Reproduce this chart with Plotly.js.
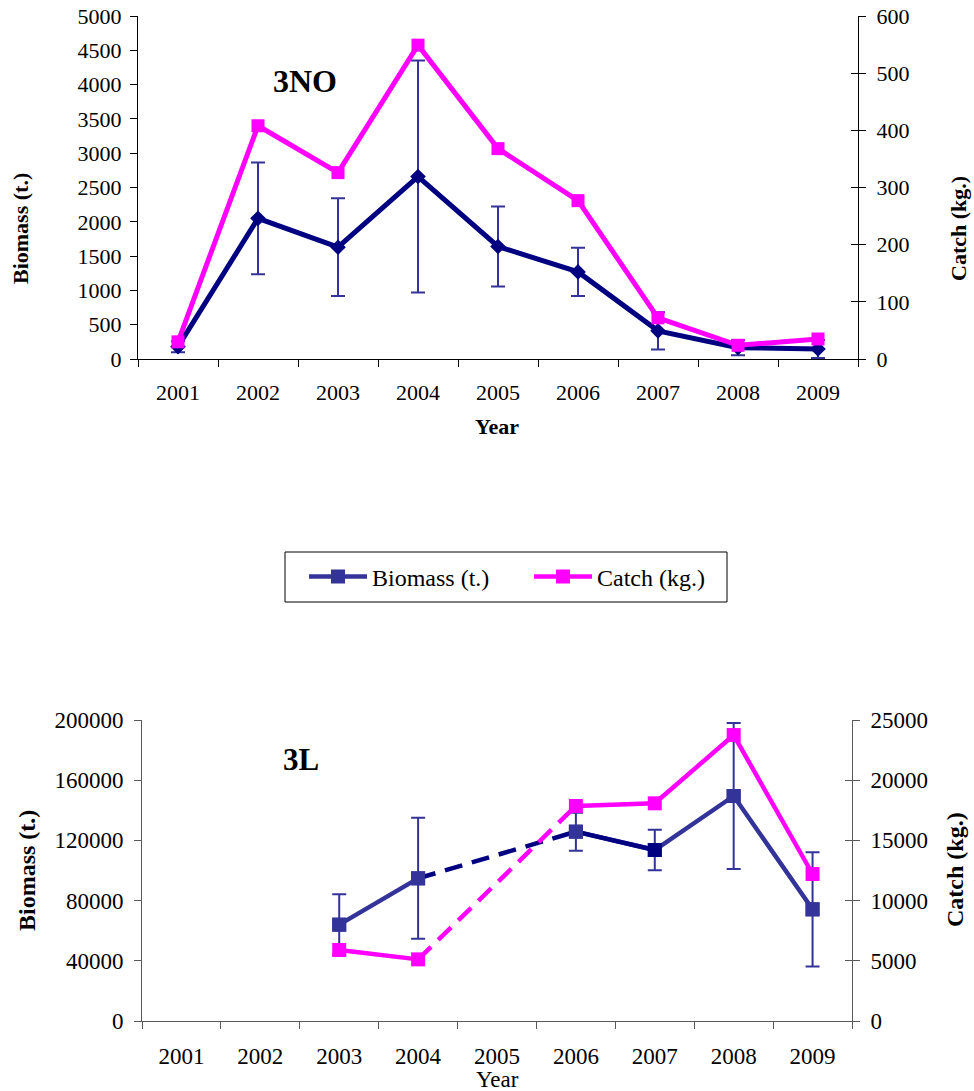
<!DOCTYPE html>
<html>
<head>
<meta charset="utf-8">
<script src="https://cdn.plot.ly/plotly-3.0.1.min.js"></script>
<style>html,body{margin:0;padding:0;background:#fff;}#chart{width:974px;height:1091px;}</style>
</head>
<body>
<div id="chart"></div>
<script>
// ---- data ----
const years = ['2001','2002','2003','2004','2005','2006','2007','2008','2009'];
// 3NO
const biomass3NO    = [180, 2050, 1630, 2660, 1640, 1270, 410, 165, 146];
const biomass3NOErr = [80, 815, 712, 1690, 583, 350, 270, 110, 130];
const catch3NO      = [30, 408, 326, 549, 368, 277, 72, 24, 35];
// 3L
const biomass3L     = [null, null, 64000, 94800, null, 125800, 113600, 149500, 74200];
const biomass3LErr  = [null, null, 20300, 40200, null, 12600, 13400, 48500, 38000];
const catch3L       = [null, null, 5900, 5120, null, 17860, 18080, 23750, 12210];
// axis tick settings
const leftTicks3NO = {range:[0,5000], dtick:500};
const rightTicks3NO = {range:[0,600], dtick:100};
const leftTicks3L = {range:[0,200000], dtick:40000};
const rightTicks3L = {range:[0,25000], dtick:5000};

const W = 974, H = 1091;
const xp = p => p / W;
const yp = p => 1 - p / H;
const FONT = 'Liberation Serif';
const PINK = '#FF00FF', NAVY = '#000080', BLUE = '#333399';

const traces = [];
// ---- top chart 3NO ----
traces.push({
  x: years, y: biomass3NO, xaxis:'x', yaxis:'y', type:'scatter', mode:'lines+markers',
  line:{color:NAVY, width:5}, marker:{symbol:'diamond', size:12, color:NAVY},
  error_y:{type:'data', array:biomass3NOErr, visible:true, color:BLUE, thickness:2, width:7},
  showlegend:false, hoverinfo:'skip'
});
traces.push({
  x: years, y: catch3NO, xaxis:'x', yaxis:'y2', type:'scatter', mode:'lines+markers',
  line:{color:PINK, width:5}, marker:{symbol:'square', size:13, color:PINK},
  showlegend:false, hoverinfo:'skip'
});
traces.push({x:[], y:[], xaxis:'x', yaxis:'y5', type:'scatter', mode:'lines', showlegend:false});

// ---- bottom chart 3L ----
const dashIdx = [3, 5];
traces.push({
  x: years, y: biomass3L, xaxis:'x2', yaxis:'y3', type:'scatter', mode:'lines+markers', name:'Biomass (t.)',
  line:{color:BLUE, width:4.5}, marker:{symbol:'square', size:14, color:BLUE}, connectgaps:false,
  showlegend:true, hoverinfo:'skip'
});
traces.push({
  x: years.slice(5,7), y: biomass3L.slice(5,7), xaxis:'x2', yaxis:'y3', type:'scatter', mode:'lines',
  line:{color:NAVY, width:4.5}, showlegend:false, hoverinfo:'skip'
});
traces.push({
  x: dashIdx.map(i=>years[i]), y: dashIdx.map(i=>biomass3L[i]), xaxis:'x2', yaxis:'y3', type:'scatter', mode:'lines',
  line:{color:NAVY, width:4.5, dash:'18px,10px'}, showlegend:false, hoverinfo:'skip'
});
traces.push({
  x: years, y: biomass3L, xaxis:'x2', yaxis:'y3', type:'scatter', mode:'markers',
  marker:{symbol:'square', size:14, color:[BLUE,BLUE,BLUE,BLUE,BLUE,BLUE,NAVY,BLUE,BLUE]},
  error_y:{type:'data', array:biomass3LErr, visible:true, color:BLUE, thickness:2, width:7},
  showlegend:false, hoverinfo:'skip'
});
traces.push({
  x: years, y: catch3L, xaxis:'x2', yaxis:'y4', type:'scatter', mode:'lines+markers', name:'Catch (kg.)',
  line:{color:PINK, width:4.5}, marker:{symbol:'square', size:14, color:PINK}, connectgaps:false,
  showlegend:true, hoverinfo:'skip'
});
traces.push({
  x: dashIdx.map(i=>years[i]), y: dashIdx.map(i=>catch3L[i]), xaxis:'x2', yaxis:'y4', type:'scatter', mode:'lines',
  line:{color:PINK, width:4.5, dash:'18px,10px'}, showlegend:false, hoverinfo:'skip'
});
traces.push({x:[], y:[], xaxis:'x2', yaxis:'y6', type:'scatter', mode:'lines', showlegend:false});

const tickFontTop = {family:FONT, size:22, color:'#000'};
const tickFontBot = {family:FONT, size:23, color:'#000'};

function xax(domain, anchor, font, standoff, lc){
  return {domain, anchor, type:'category', categoryorder:'array', categoryarray:years, range:[-0.5, 8.5],
    tickson:'boundaries', ticks:'outside', ticklen:7, tickcolor:lc, tickwidth:1,
    showline:true, linecolor:lc, linewidth:1, showgrid:false, zeroline:false,
    tickfont:font, ticklabelstandoff:standoff, fixedrange:true};
}
function yax(domain, anchor, t, font, side, lc, standoff, extra){
  return Object.assign({domain, anchor, range:t.range, dtick:t.dtick, tick0:0, tickformat:'d', side,
    ticks:'outside', ticklen:7, tickcolor:lc, tickwidth:1, showline:true, linecolor:lc, linewidth:1,
    showgrid:false, zeroline:false, tickfont:font, ticklabelstandoff:standoff, fixedrange:true}, extra||{});
}
const topX = [xp(138), xp(858)], topY = [yp(359), yp(16)];
const botX = [xp(142), xp(852)], botY = [yp(1021), yp(720)];
const BLK = '#000', GRY = '#595959';

function ann(text, x, y, size, extra){
  return Object.assign({text, x:xp(x), y:yp(y), xref:'paper', yref:'paper', xanchor:'center', yanchor:'middle',
    showarrow:false, font:{family:FONT, size, color:'#000'}}, extra||{});
}

const layout = {
  width:W, height:H, margin:{l:0,r:0,t:0,b:0}, paper_bgcolor:'#fff', plot_bgcolor:'rgba(0,0,0,0)',
  font:{family:FONT, color:'#000'},
  showlegend:true,
  legend:{orientation:'h', x:xp(304), xanchor:'left', y:yp(577), yanchor:'middle',
    font:{family:FONT, size:24, color:'#000'}, bgcolor:'rgba(0,0,0,0)', borderwidth:0,
    itemwidth:58, entrywidth:152, entrywidthmode:'pixels', itemclick:false, itemdoubleclick:false},
  xaxis: xax(topX, 'y', tickFontTop, 14, BLK),
  yaxis: yax(topY, 'x', leftTicks3NO, tickFontTop, 'left', BLK, 4),
  yaxis2: yax(topY, 'x', rightTicks3NO, tickFontTop, 'right', BLK, 6, {overlaying:'y'}),
  yaxis5: yax(topY, 'x', rightTicks3NO, tickFontTop, 'right', BLK, 6, {overlaying:'y', ticks:'inside', showticklabels:false, showline:false}),
  xaxis2: xax(botX, 'y3', tickFontBot, 14, GRY),
  yaxis3: yax(botY, 'x2', leftTicks3L, tickFontBot, 'left', GRY, 6),
  yaxis4: yax(botY, 'x2', rightTicks3L, tickFontBot, 'right', GRY, 6, {overlaying:'y3'}),
  yaxis6: yax(botY, 'x2', rightTicks3L, tickFontBot, 'right', GRY, 6, {overlaying:'y3', ticks:'inside', showticklabels:false, showline:false}),
  shapes:[{type:'rect', xref:'paper', yref:'paper', x0:xp(285), x1:xp(727), y0:yp(602), y1:yp(552),
    line:{color:'#000', width:1}, fillcolor:'rgba(0,0,0,0)'}],
  annotations:[
    ann('<b>3NO</b>', 305, 81, 32),
    ann('<b>Biomass (t.)</b>', 21, 229, 22, {textangle:-90}),
    ann('<b>Catch (kg.)</b>', 959, 229, 22, {textangle:-90}),
    ann('<b>Year</b>', 497, 426, 22),
    ann('<b>3L</b>', 301, 759, 31),
    ann('<b>Biomass (t.)</b>', 27, 871, 24, {textangle:-90}),
    ann('<b>Catch (kg.)</b>', 955, 870, 24, {textangle:-90}),
    ann('Year', 497, 1079, 23)
  ]
};

Plotly.newPlot('chart', traces, layout, {staticPlot:true, displayModeBar:false});
</script>
</body>
</html>
